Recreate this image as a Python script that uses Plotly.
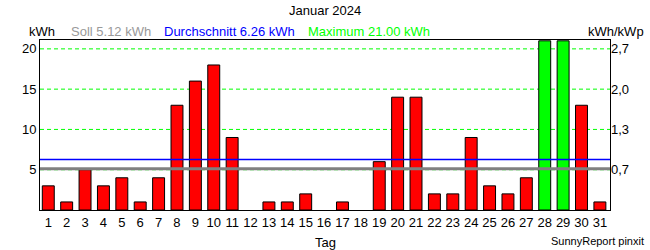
import plotly.graph_objects as go

days = list(range(1, 32))
energy = [3, 1, 5, 3, 4, 1, 4, 13, 16, 18, 9, 0, 1, 1, 2, 0, 1, 0, 6, 14, 14,
          2, 2, 9, 3, 2, 4, 21, 21, 13, 1]
soll = 5.12
avg = 6.26
maximum = 21.00
left_ticks = [5, 10, 15, 20]
right_ticktext = ["0,7", "1,3", "2,0", "2,7"]

FONT = "Liberation Sans, Arial, sans-serif"
colors = ["#00ff00" if v >= maximum else "#ff0000" for v in energy]
outline = [1 if v > 0 else 0 for v in energy]

fig = go.Figure()
fig.add_trace(go.Bar(
    x=days, y=energy,
    marker=dict(color=colors, line=dict(color="black", width=outline)),
    width=0.65, showlegend=False, hoverinfo="x+y"))
fig.add_trace(go.Scatter(x=[days[0]], y=[0], yaxis="y2", mode="markers",
                         marker=dict(opacity=0), showlegend=False, hoverinfo="skip"))

for t in left_ticks:
    fig.add_shape(type="line", xref="paper", yref="y", x0=0, x1=1, y0=t, y1=t,
                  line=dict(color="#00ff00", width=1, dash="4px,3px"), layer="below")

fig.add_shape(type="line", xref="paper", yref="y", x0=0, x1=1, y0=soll, y1=soll,
              line=dict(color="#808080", width=3), layer="above")
fig.add_shape(type="line", xref="paper", yref="y", x0=0, x1=1, y0=avg, y1=avg,
              line=dict(color="#0000ff", width=1.5), layer="above")

def ann(text, x, y, color="black", xanchor="left", size=13):
    fig.add_annotation(text=text, x=x, y=y, xref="paper", yref="paper",
                       xanchor=xanchor, yanchor="middle", showarrow=False,
                       font=dict(family=FONT, size=size, color=color))

def px_x(p):
    return (p - 40) / 570

def px_y(p):
    return (210 - p) / 170

ann("Januar 2024", 0.5, px_y(11), xanchor="center", size=13)
ann("kWh", px_x(27), px_y(32))
ann(f"Soll {soll:.2f} kWh", px_x(69), px_y(32), color="#999999")
ann(f"Durchschnitt {avg:.2f} kWh", px_x(162), px_y(32), color="#0000ff")
ann(f"Maximum {maximum:.2f} kWh", px_x(306), px_y(32), color="#00ff00")
ann("kWh/kWp", px_x(646), px_y(32), xanchor="right")
ann("Tag", 0.5, px_y(242), xanchor="center")
ann("SunnyReport pinxit", px_x(646), px_y(241), xanchor="right", size=11)

fig.update_layout(
    template="none",
    width=650, height=250,
    margin=dict(l=40, r=40, t=40, b=40),
    paper_bgcolor="white", plot_bgcolor="white",
    font=dict(family=FONT, size=13, color="black"),
    bargap=0.35,
    xaxis=dict(range=[0.55, 31.55], tickvals=days, ticktext=[str(d) for d in days],
               showgrid=False, showline=True, linecolor="black", linewidth=1,
               mirror=True, ticks="", zeroline=False, fixedrange=True,
               tickfont=dict(size=13)),
    yaxis=dict(range=[0, 21.1], tickvals=left_ticks, showgrid=False,
               showline=True, linecolor="black", linewidth=1, mirror=True,
               ticks="", zeroline=False, tickfont=dict(size=13)),
    yaxis2=dict(range=[0, 21.1], overlaying="y", side="right",
                tickvals=left_ticks, ticktext=right_ticktext, showgrid=False,
                showline=False, ticks="", zeroline=False, tickfont=dict(size=13)),
)

fig.write_html("out.html")
